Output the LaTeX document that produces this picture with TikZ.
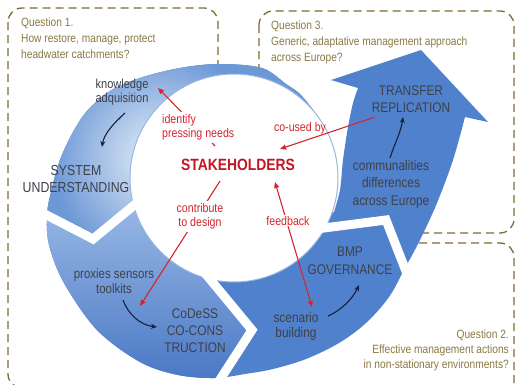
\documentclass[tikz,border=0pt]{standalone}
\usepackage{fontspec}
\setmainfont{Liberation Sans}[FakeStretch=0.85]
\usetikzlibrary{arrows.meta}
\definecolor{qcol}{RGB}{139,121,68}
\definecolor{boxcol}{RGB}{128,108,48}
\definecolor{darktext}{RGB}{62,64,72}
\definecolor{redc}{RGB}{214,36,46}
\definecolor{stakec}{RGB}{196,22,34}
\definecolor{navy}{RGB}{22,32,62}
\definecolor{circline}{RGB}{150,182,225}
\definecolor{segblue}{RGB}{80,129,204}
\definecolor{segonebase}{RGB}{108,152,214}
\definecolor{segonepale}{RGB}{232,240,250}
\definecolor{segtwotop}{RGB}{152,184,229}
\definecolor{segtwobot}{RGB}{72,118,196}
\newcommand\mlines[2]{\begin{tabular}[t]{@{}#1@{}}#2\end{tabular}}
\def\ringpath{plot[smooth,tension=0.55] coordinates {(314,111) (300,94) (286,84) (262,68) (220,64) (180,68) (140,78) (110,91) (87,111) (72,134) (60,160) (52,188) (47,214) (49,245) (64,283) (97,330) (140,362) (178,375) (215,378) (245,374) (273,369) (306,359) (339,343) (366,323) (389,297) (405,268) (420,240) (437,203) (453,160) (465,117)} -- (488,122) -- (421,50) -- (331,80) -- plot[smooth] coordinates {(358,88) (353,103) (348,127) (343,160) (340,190) (334,212)} -- plot[domain=338:40,samples=90] ({234+100*cos(\x)},{178-100*sin(\x)}) -- cycle}
\begin{document}
\begin{tikzpicture}[x=1pt,y=-1pt,
  qbox/.style={draw=boxcol, line width=1.3pt, dash pattern=on 8pt off 5pt, rounded corners=14pt},
  qtext/.style={text=qcol, inner sep=0pt, font=\fontsize{12}{16}\selectfont},
  seglab/.style={text=darktext, inner sep=0pt, anchor=base, font=\fontsize{14}{17}\selectfont},
  redlab/.style={text=redc, fill=white, inner sep=1pt, anchor=base, font=\fontsize{12.5}{14.5}\selectfont},
  stakelab/.style={text=stakec, inner sep=0pt, anchor=base, font=\fontsize{16.3}{18}\selectfont\bfseries},
  redarrow/.style={draw=redc, line width=1.1pt, -{Triangle[length=6pt,width=5pt]}},
  redboth/.style={draw=redc, line width=1.1pt, {Triangle[length=6pt,width=5pt]}-{Triangle[length=6pt,width=5pt]}},
  navyarrow/.style={draw=navy, line width=1.1pt, -{Stealth[length=6pt,width=5pt]}},
  gapline/.style={draw=white, line width=9pt, line join=miter},
]
\useasboundingbox (0,0) rectangle (516,384);
\fill[white] (0,0) rectangle (516,384);
% question boxes
\draw[qbox] (8,8) rectangle (218,388);
\draw[qbox] (259,11) rectangle (514,233);
\draw[qbox] (250,243) -- (514,243) -- (514,400);
% ring
\fill[segblue] \ringpath;
\begin{scope}
  \clip \ringpath;
  \clip (234,178) -- (149,193) -- (93,239) -- (33,208) -- (-30,208) -- (-30,-30) -- (324,-30) -- (324,118) -- cycle;
  \fill[segonebase] (-30,-30) rectangle (330,260);
  \shade[inner color=segonepale, outer color=segonebase] (158,158) circle (108);
\end{scope}
\begin{scope}
  \clip \ringpath;
  \clip (234,178) -- (149,193) -- (93,239) -- (33,208) -- (-30,208) -- (-30,420) -- (205,420) -- (212,390) -- (252,330) -- (200,267) -- cycle;
  \shade[top color=segtwotop, bottom color=segtwobot] (-30,205) rectangle (260,385);
\end{scope}
% central circle
\filldraw[fill=white, draw=circline, line width=1pt] (234,178) circle (104);
% chevron gaps
\draw[gapline] (33,208) -- (93,239) -- (149,193);
\draw[gapline] (200,267) -- (252,330) -- (212,392);
\draw[gapline] (316,229) -- (386,220) -- (411,284);
% coordinates for connectors
\coordinate (stkA) at (215,146);
\coordinate (knw) at (158,88);
\coordinate (stkB) at (220,181);
\coordinate (prx) at (140,306);
\coordinate (stkC) at (275,182);
\coordinate (scn) at (312,307);
\coordinate (trf) at (375,117);
\coordinate (stkD) at (280,149);
\coordinate (kaS) at (125,113);
\coordinate (kaE) at (102,147);
\coordinate (pxS) at (123,300);
\coordinate (pxE) at (157,327);
\coordinate (scS) at (328,316);
\coordinate (scE) at (359,285);
\coordinate (cmS) at (390,158);
\coordinate (cmE) at (403,117);
% red connectors
\draw[redarrow] (stkA) -- (knw);
\draw[redarrow] (stkB) -- (prx);
\draw[redboth] (stkC) -- (scn);
\draw[redarrow] (trf) -- (stkD);
% navy connectors
\draw[navyarrow] (kaS) .. controls (113,124) and (104,134) .. (kaE);
\draw[navyarrow] (pxS) .. controls (128,314) and (140,325) .. (pxE);
\draw[navyarrow] (scS) .. controls (342,310) and (353,298) .. (scE);
\draw[navyarrow] (cmS) .. controls (394,145) and (401,132) .. (cmE);
% question texts
\node[qtext, anchor=base west] (qone) at (21,26) {\mlines{l}{Question 1.\\How restore, manage, protect\\headwater catchments?}};
\node[qtext, anchor=base west] (qthree) at (271,29) {\mlines{l}{Question 3.\\Generic, adaptative management approach\\across Europe?}};
\node[qtext, anchor=base east, font=\fontsize{12}{15}\selectfont] (qtwo) at (509,338) {\mlines{r}{Question 2.\\Effective management actions\\in non-stationary environments?}};
% segment texts
\node[seglab, font=\fontsize{13}{14}\selectfont] (know) at (122,88) {\mlines{c}{knowledge\\adquisition}};
\node[seglab, font=\fontsize{14.5}{17}\selectfont] (sys) at (76,175) {\mlines{c}{SYSTEM\\UNDERSTANDING}};
\node[seglab, font=\fontsize{13.5}{15}\selectfont] (prox) at (114,278) {\mlines{c}{proxies sensors\\toolkits}};
\node[seglab] (codess) at (195,318) {\mlines{c}{CoDeSS\\CO-CONS\\TRUCTION}};
\node[seglab, font=\fontsize{14}{15}\selectfont] (scen) at (296,322) {\mlines{c}{scenario\\building}};
\node[seglab, font=\fontsize{14}{18}\selectfont] (bmp) at (350,256) {\mlines{c}{BMP\\GOVERNANCE}};
\node[seglab, font=\fontsize{14}{17.5}\selectfont] (comm) at (391,170) {\mlines{c}{communalities\\differences\\across Europe}};
\node[seglab] (trans) at (411,95) {\mlines{c}{TRANSFER\\REPLICATION}};
% red labels
\node[stakelab] (stk) at (238,170) {STAKEHOLDERS};
\node[redlab, anchor=base west] (idn) at (161,123) {\mlines{l}{identify\\pressing needs}};
\node[redlab] (ctd) at (200,212) {\mlines{c}{contribute\\to design}};
\node[redlab] (fbk) at (288,225) {feedback};
\node[redlab, fill=none] (cub) at (300,131) {co-used by};
\end{tikzpicture}
\end{document}
